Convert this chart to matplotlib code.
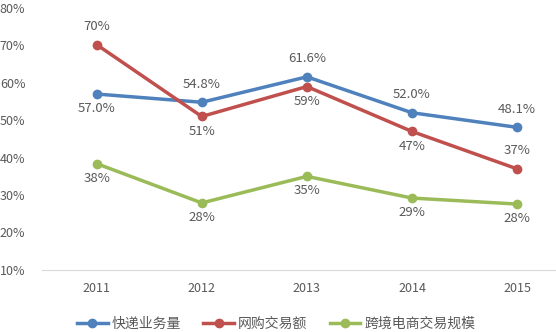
import matplotlib.pyplot as plt

plt.rcParams['font.family'] = ['Noto Sans CJK SC', 'DejaVu Sans']

years = ['2011', '2012', '2013', '2014', '2015']
express = [57.0, 54.8, 61.6, 52.0, 48.1]
online = [70.2, 51.0, 59.0, 47.0, 37.0]
crossborder = [38.4, 27.9, 35.0, 29.2, 27.6]

express_lbl = ['57.0%', '54.8%', '61.6%', '52.0%', '48.1%']
online_lbl = ['70%', '51%', '59%', '47%', '37%']
cross_lbl = ['38%', '28%', '35%', '29%', '28%']

names = ['快递业务量', '网购交易额', '跨境电商交易规模']
colors = ['#4F81BD', '#C0504D', '#9BBB59']
txt = '#595959'

fig = plt.figure(figsize=(5.56, 3.32), dpi=100)
ax = fig.add_axes([0.0755, 0.187, 0.9245, 0.789])

x = list(range(len(years)))
series = [express, online, crossborder]
labels = [express_lbl, online_lbl, cross_lbl]
# 标签位置: 1=上方, -1=下方
sides = [[-1, 1, 1, 1, 1], [1, -1, -1, -1, 1], [-1, -1, -1, -1, -1]]

for vals, lbls, side, c, n in zip(series, labels, sides, colors, names):
    ax.plot(x, vals, color=c, lw=2.5, marker='o', ms=6, label=n)
    for xi, v, l, s in zip(x, vals, lbls, side):
        off = 13 if s > 0 else -10.5
        ax.annotate(l, (xi, v), xytext=(0, off), textcoords='offset points',
                    ha='center', va='center', fontsize=9.5, color=txt)

ax.set_xlim(-0.52, 4.37)
ax.set_ylim(10, 80)
ax.set_yticks(range(10, 81, 10))
ax.set_yticklabels([f'{v}%' for v in range(10, 81, 10)])
ax.set_xticks(x)
ax.set_xticklabels(years)
ax.tick_params(length=0, labelsize=9, colors=txt)
ax.tick_params(axis='y', pad=12)
ax.tick_params(axis='x', pad=9)
for sp in ['top', 'right', 'left']:
    ax.spines[sp].set_visible(False)
ax.spines['bottom'].set_color('#D9D9D9')

fig.legend(loc='lower center', bbox_to_anchor=(0.497, -0.035), ncol=3, frameon=False,
           fontsize=10, labelcolor=txt, handlelength=2.2, columnspacing=1.6, handletextpad=0.3)

plt.savefig('out.png', dpi=100)
